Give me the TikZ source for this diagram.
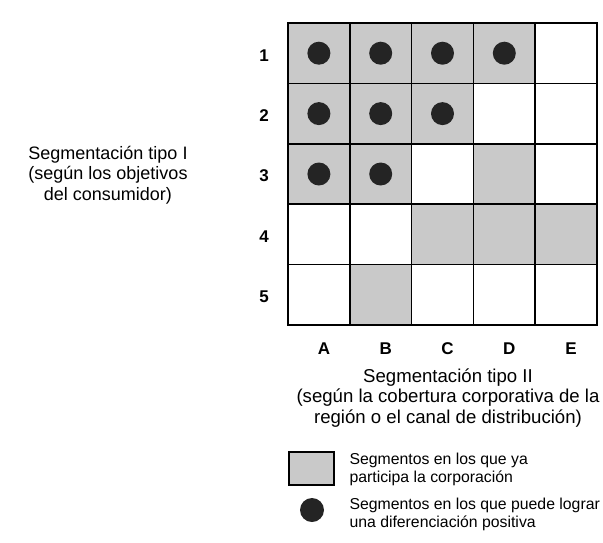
\documentclass[tikz,border=0pt]{standalone}
\usepackage{fontspec}
\setmainfont{Liberation Sans}
\begin{document}
\begin{tikzpicture}[x=1pt,y=-1pt,
  shadecell/.style={fill=black!21},
  dotmark/.style={fill=black!86},
  innerline/.style={line width=1.7pt},
  outerline/.style={line width=2.6pt},
  axislabel/.style={font=\bfseries\fontsize{17}{20}\selectfont},
  bigtext/.style={align=center,font=\fontsize{18}{20.5}\selectfont},
  legtext/.style={align=left,anchor=west,font=\fontsize{15.8}{18}\selectfont}]
\useasboundingbox (0,0) rectangle (603,542);
\def\gx{288}\def\gy{23}\def\cw{61.8}\def\ch{60.4}
% shaded cells
\foreach \c/\r in {1/1,2/1,3/1,4/1,1/2,2/2,3/2,1/3,2/3,4/3,3/4,4/4,5/4,2/5}
  \fill[shadecell] ({\gx+(\c-1)*\cw},{\gy+(\r-1)*\ch}) rectangle +(\cw,\ch);
% grid
\foreach \i in {1,...,4} {
  \draw[innerline] ({\gx+\i*\cw},\gy) -- ({\gx+\i*\cw},{\gy+5*\ch});
  \draw[innerline] (\gx,{\gy+\i*\ch}) -- ({\gx+5*\cw},{\gy+\i*\ch});
}
\draw[outerline] (\gx,\gy) rectangle ({\gx+5*\cw},{\gy+5*\ch});
% dots
\foreach \c/\r in {1/1,2/1,3/1,4/1,1/2,2/2,3/2,1/3,2/3}
  \fill[dotmark] ({\gx+(\c-0.5)*\cw},{\gy+(\r-0.5)*\ch}) circle (11.5);
% row labels
\foreach \r in {1,...,5}
  \node[axislabel] (row\r) at (264,{\gy+(\r-0.5)*\ch+2}) {\r};
% column labels
\foreach \c/\l in {1/A,2/B,3/C,4/D,5/E}
  \node[axislabel] (col\l) at ({\gx+(\c-0.5)*\cw+5},349) {\l};
% texts
\node[bigtext] (tipoI) at (108,175) {Segmentación tipo I\\(según los objetivos\\del consumidor)};
\node[bigtext,font=\fontsize{18.6}{20.5}\selectfont] (tipoII) at (448,398) {Segmentación tipo II\\(según la cobertura corporativa de la\\región o el canal de distribución)};
% legend
\draw[line width=1.6pt,shadecell] (289,452) rectangle (334,485);
\node[legtext] (leg1) at (346,469) {Segmentos en los que ya\\participa la corporación};
\fill[dotmark] (312,510) circle (12);
\node[legtext] (leg2) at (346,514) {Segmentos en los que puede lograr\\una diferenciación positiva};
\end{tikzpicture}
\end{document}
